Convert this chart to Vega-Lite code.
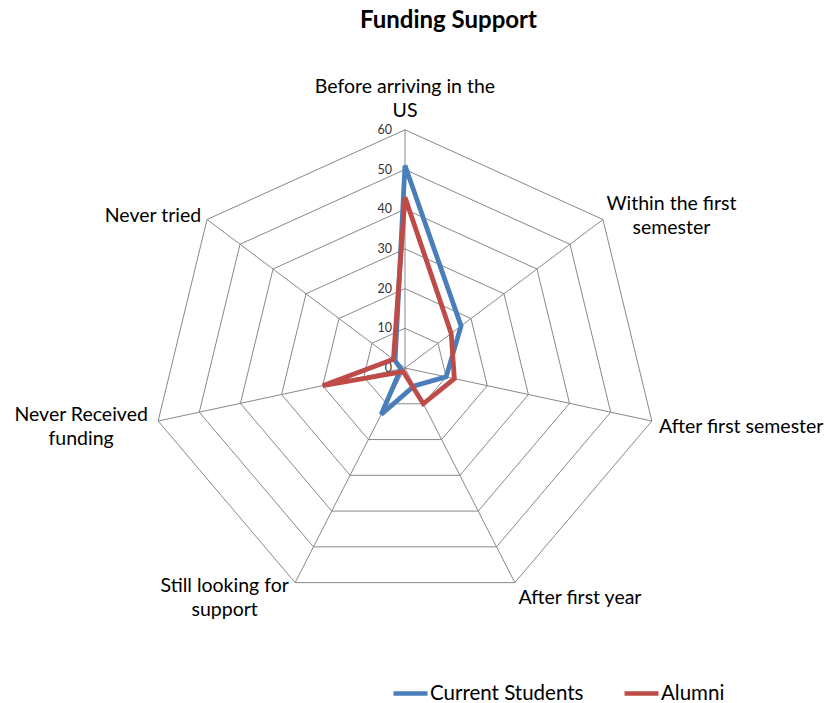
{
  "$schema": "https://vega.github.io/schema/vega-lite/v6.json",
  "width": 831,
  "height": 703,
  "padding": 0,
  "autosize": {"type": "none"},
  "title": {"text": "Funding Support", "font": "Lato", "fontSize": 24, "fontWeight": "bold", "color": "#000000", "anchor": "middle", "offset": 0, "baseline": "middle", "dy": 45, "dx": 33},
  "config": {"view": {"stroke": null}, "font": "Lato"},
  "datasets": {
    "axes": [
      {"idx": 0, "label": "Before arriving in the\nUS"},
      {"idx": 1, "label": "Within the first\nsemester"},
      {"idx": 2, "label": "After first semester"},
      {"idx": 3, "label": "After first year"},
      {"idx": 4, "label": "Still looking for\nsupport"},
      {"idx": 5, "label": "Never Received\nfunding"},
      {"idx": 6, "label": "Never tried"}
    ],
    "rings": [
      {"ring": 0, "idx": [0, 1, 2, 3, 4, 5, 6]},
      {"ring": 10, "idx": [0, 1, 2, 3, 4, 5, 6]},
      {"ring": 20, "idx": [0, 1, 2, 3, 4, 5, 6]},
      {"ring": 30, "idx": [0, 1, 2, 3, 4, 5, 6]},
      {"ring": 40, "idx": [0, 1, 2, 3, 4, 5, 6]},
      {"ring": 50, "idx": [0, 1, 2, 3, 4, 5, 6]},
      {"ring": 60, "idx": [0, 1, 2, 3, 4, 5, 6]}
    ],
    "series": [
      {"series": "Current Students", "idx": 0, "category": "Before arriving in the US", "value": 51},
      {"series": "Current Students", "idx": 1, "category": "Within the first semester", "value": 17},
      {"series": "Current Students", "idx": 2, "category": "After first semester", "value": 10},
      {"series": "Current Students", "idx": 3, "category": "After first year", "value": 5},
      {"series": "Current Students", "idx": 4, "category": "Still looking for support", "value": 13},
      {"series": "Current Students", "idx": 5, "category": "Never Received funding", "value": 1},
      {"series": "Current Students", "idx": 6, "category": "Never tried", "value": 3},
      {"series": "Alumni", "idx": 0, "category": "Before arriving in the US", "value": 43},
      {"series": "Alumni", "idx": 1, "category": "Within the first semester", "value": 14},
      {"series": "Alumni", "idx": 2, "category": "After first semester", "value": 12},
      {"series": "Alumni", "idx": 3, "category": "After first year", "value": 10},
      {"series": "Alumni", "idx": 4, "category": "Still looking for support", "value": 1},
      {"series": "Alumni", "idx": 5, "category": "Never Received funding", "value": 20},
      {"series": "Alumni", "idx": 6, "category": "Never tried", "value": 3.5}
    ]
  },
  "layer": [
    {
      "data": {"name": "rings"},
      "transform": [
        {"filter": "datum.ring > 0"},
        {"flatten": ["idx"]},
        {"calculate": "datum.ring * sin(datum.idx * 2 * PI / 7)", "as": "gx"},
        {"calculate": "datum.ring * cos(datum.idx * 2 * PI / 7)", "as": "gy"}
      ],
      "mark": {"type": "line", "interpolate": "linear-closed", "stroke": "#888888", "strokeWidth": 1},
      "encoding": {
        "x": {"field": "gx", "type": "quantitative", "scale": {"domain": [-95.97, 100.95], "nice": false, "zero": false}, "axis": null},
        "y": {"field": "gy", "type": "quantitative", "scale": {"domain": [-84.38, 92.7], "nice": false, "zero": false}, "axis": null},
        "detail": {"field": "ring", "type": "nominal"},
        "order": {"field": "idx", "type": "quantitative"}
      }
    },
    {
      "data": {"name": "axes"},
      "transform": [
        {"calculate": "60 * sin(datum.idx * 2 * PI / 7)", "as": "sx"},
        {"calculate": "60 * cos(datum.idx * 2 * PI / 7)", "as": "sy"},
        {"calculate": "0", "as": "z"}
      ],
      "mark": {"type": "rule", "stroke": "#888888", "strokeWidth": 1},
      "encoding": {
        "x": {"field": "z", "type": "quantitative"},
        "y": {"field": "z", "type": "quantitative"},
        "x2": {"field": "sx"},
        "y2": {"field": "sy"}
      }
    },
    {
      "data": {"name": "rings"},
      "transform": [
        {"calculate": "0", "as": "z"}
      ],
      "mark": {"type": "text", "align": "right", "baseline": "middle", "dx": -13, "fontSize": 12.5, "font": "Lato", "color": "#333333"},
      "encoding": {
        "x": {"field": "z", "type": "quantitative"},
        "y": {"field": "ring", "type": "quantitative"},
        "text": {"field": "ring", "type": "quantitative"}
      }
    },
    {
      "data": {"name": "series"},
      "transform": [
        {"calculate": "datum.value * sin(datum.idx * 2 * PI / 7)", "as": "px"},
        {"calculate": "datum.value * cos(datum.idx * 2 * PI / 7)", "as": "py"}
      ],
      "mark": {"type": "line", "interpolate": "linear-closed", "strokeWidth": 4.8},
      "encoding": {
        "x": {"field": "px", "type": "quantitative"},
        "y": {"field": "py", "type": "quantitative"},
        "order": {"field": "idx", "type": "quantitative"},
        "color": {
          "field": "series",
          "type": "nominal",
          "scale": {"domain": ["Current Students", "Alumni"], "range": ["#4A7EBB", "#BE4B48"]},
          "legend": {
            "orient": "none",
            "legendX": 391,
            "legendY": 674,
            "direction": "horizontal",
            "title": null,
            "symbolType": "stroke",
            "symbolSize": 1156,
            "symbolStrokeWidth": 4.5,
            "labelFont": "Lato",
            "labelFontSize": 20.5,
            "labelColor": "#000000",
            "columnPadding": 31,
            "labelOffset": 0,
            "padding": 0
          }
        }
      }
    },
    {
      "data": {"name": "axes"},
      "transform": [
        {"calculate": "sin(datum.idx * 2 * PI / 7)", "as": "sa"},
        {"calculate": "cos(datum.idx * 2 * PI / 7)", "as": "ca"},
        {"calculate": "split(datum.label, '\\n')[0]", "as": "first"},
        {"calculate": "indexof(datum.label, '\\n') >= 0 ? 1 : 0", "as": "two"},
        {"calculate": "length(datum.first)", "as": "nm"},
        {"calculate": "datum.nm - length(replace(datum.first, regexp('[iltfrj ]', 'g'), ''))", "as": "narrow"},
        {"calculate": "1.15 * (9.3 * datum.nm - 4.3 * datum.narrow)", "as": "w"},
        {"calculate": "(263 * datum.sa + (abs(datum.sa) > 0.01 ? (datum.sa > 0 ? 1 : -1) * datum.w / 2 : 0)) / 4.22", "as": "lx"},
        {"calculate": "-(-239 * datum.ca + (datum.ca > 0.99 ? -30 : (datum.ca < 0 ? 3 - datum.ca * 13 : -datum.ca * 5)) - 12 * datum.two) / 3.97", "as": "ly"}
      ],
      "mark": {"type": "text", "align": "center", "baseline": "middle", "fontSize": 19.5, "font": "Lato", "lineHeight": 24, "lineBreak": "\n", "color": "#000000"},
      "encoding": {
        "x": {"field": "lx", "type": "quantitative"},
        "y": {"field": "ly", "type": "quantitative"},
        "text": {"field": "label", "type": "nominal"}
      }
    }
  ]
}
